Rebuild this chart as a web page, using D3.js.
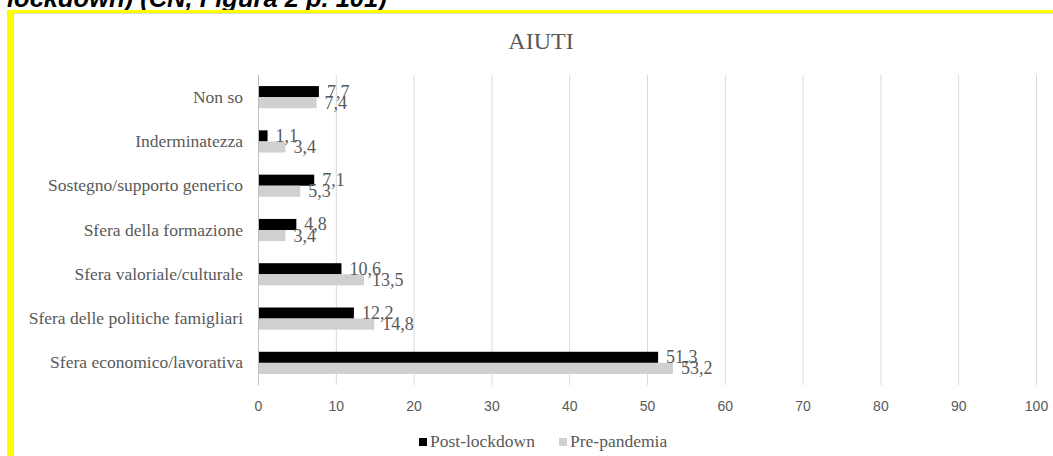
<!DOCTYPE html>
<html><head><meta charset="utf-8">
<script src="https://cdn.jsdelivr.net/npm/d3@7"></script>
<style>html,body{margin:0;padding:0;background:#fff;overflow:hidden}</style>
</head><body>
<script>
const categories = ["Non so","Inderminatezza","Sostegno/supporto generico","Sfera della formazione","Sfera valoriale/culturale","Sfera delle politiche famigliari","Sfera economico/lavorativa"];
const postLockdown = [7.7,1.1,7.1,4.8,10.6,12.2,51.3];
const prePandemia = [7.4,3.4,5.3,3.4,13.5,14.8,53.2];
const seriesNames = ["Post-lockdown","Pre-pandemia"];
const xTicks = [0,10,20,30,40,50,60,70,80,90,100];
const fmt = v => String(v).replace(".", ",");

const W = 1053, H = 456;
const SERIF = "Liberation Serif, Times New Roman, serif";
const SANS = "Liberation Sans, Arial, sans-serif";
const svg = d3.select("body").append("svg").attr("width", W).attr("height", H);
svg.append("rect").attr("width", W).attr("height", H).attr("fill", "#fff");

// heading text (cut off at the top edge)
svg.append("text").attr("x", 7).attr("y", 7)
  .attr("font-family", SANS).attr("font-weight", "bold")
  .attr("font-style", "italic").attr("font-size", 25.5).attr("fill", "#000")
  .text("lockdown) (CN, Figura 2 p. 101)");

// yellow frame
svg.append("rect").attr("x", 7).attr("y", 10).attr("width", W - 7).attr("height", 3).attr("fill", "#ffff00");
svg.append("rect").attr("x", 7).attr("y", 10).attr("width", 6).attr("height", H - 10).attr("fill", "#ffff00");
svg.append("line").attr("x1", 13.5).attr("x2", W).attr("y1", 13.5).attr("y2", 13.5).attr("stroke", "#d9d9d9");
svg.append("line").attr("x1", 13.5).attr("x2", 13.5).attr("y1", 13.5).attr("y2", H).attr("stroke", "#d9d9d9");

const x = d3.scaleLinear().domain([0, 100]).range([258, 1036]);
const y = d3.scaleBand().domain(categories).range([75, 385]).paddingInner(0.5).paddingOuter(0.25);
const sub = d3.scaleBand().domain(seriesNames).range([0, y.bandwidth()]);
const colors = {"Post-lockdown": "#000000", "Pre-pandemia": "#d0d0d0"};

// title
svg.append("text").attr("x", 541).attr("y", 49).attr("text-anchor", "middle")
  .attr("font-family", SERIF).attr("font-size", 24)
  .attr("fill", "#595959").text("AIUTI");

// gridlines
svg.append("g").selectAll("line").data(xTicks.slice(1)).join("line")
  .attr("x1", d => x(d) + 0.5).attr("x2", d => x(d) + 0.5)
  .attr("y1", 75).attr("y2", 385).attr("stroke", "#d9d9d9").attr("stroke-width", 1);

// x axis labels
const xAxis = d3.axisBottom(x).tickValues(xTicks).tickSize(0).tickPadding(16);
const gx = svg.append("g").attr("transform", "translate(0,385)").call(xAxis);
gx.select(".domain").remove();
gx.selectAll("text").attr("font-family", SANS).attr("font-size", 14).attr("fill", "#595959");

// y axis
const yAxis = d3.axisLeft(y).tickSize(0).tickPadding(15);
const gy = svg.append("g").attr("transform", "translate(258,0)").call(yAxis);
gy.select(".domain").attr("stroke", "#bfbfbf").attr("d", "M0.5,75V385");
gy.selectAll("text").attr("font-family", SERIF).attr("font-size", 17.5).attr("fill", "#595959");

const rows = categories.map((c, i) => ({c, vals: [
  {s: seriesNames[0], v: postLockdown[i]},
  {s: seriesNames[1], v: prePandemia[i]}
]}));

const g = svg.append("g").selectAll("g").data(rows).join("g")
  .attr("transform", d => `translate(0,${y(d.c)})`);
g.selectAll("rect").data(d => d.vals).join("rect")
  .attr("x", x(0) + 1).attr("y", d => sub(d.s))
  .attr("width", d => x(d.v) - x(0)).attr("height", sub.bandwidth())
  .attr("fill", d => colors[d.s]);
g.selectAll("text").data(d => d.vals).join("text")
  .attr("x", d => x(d.v) + 9).attr("y", d => sub(d.s) + sub.bandwidth() / 2 + 6)
  .attr("font-family", SERIF).attr("font-size", 18)
  .attr("fill", "#595959").text(d => fmt(d.v));

// legend
const leg = svg.append("g");
const legItems = [{s: seriesNames[0], x: 419}, {s: seriesNames[1], x: 559}];
legItems.forEach(it => {
  leg.append("rect").attr("x", it.x).attr("y", 438).attr("width", 8).attr("height", 8).attr("fill", colors[it.s]);
  leg.append("text").attr("x", it.x + 11).attr("y", 447)
    .attr("font-family", SERIF).attr("font-size", 17.5)
    .attr("fill", "#595959").text(it.s);
});
</script>
</body></html>
